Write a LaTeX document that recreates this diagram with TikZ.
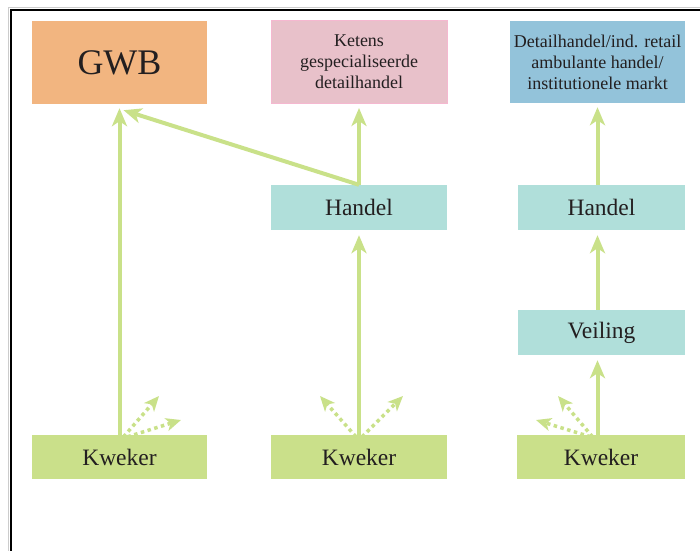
\documentclass[tikz,border=0pt]{standalone}
\usepackage{fontspec}
\setmainfont{Liberation Serif}
\usetikzlibrary{arrows.meta,calc}
\definecolor{cOrange}{HTML}{F2B580}
\definecolor{cPink}{HTML}{E8C1CA}
\definecolor{cPinkB}{HTML}{F5B8D0}
\definecolor{cBlue}{HTML}{93C3DA}
\definecolor{cTeal}{HTML}{B0DFDA}
\definecolor{cGreen}{HTML}{CAE08A}
\definecolor{cArrow}{HTML}{C9E189}
\definecolor{cText}{HTML}{231F20}
\tikzset{
  box/.style={rectangle, inner sep=0pt, text=cText, align=center},
  bigfont/.style={font=\fontsize{36}{40}\selectfont},
  midfont/.style={font=\fontsize{23.5}{27}\selectfont},
  smallfont/.style={font=\fontsize{18}{21}\selectfont},
  flow/.style={draw=cArrow, line width=4pt, -{Stealth[length=18pt,width=15pt,inset=5pt]}},
  alt/.style={draw=cArrow, line width=3.5pt, dash pattern=on 3.5pt off 3.5pt, -{Stealth[length=15pt,width=13pt,inset=4pt]}},
}
\begin{document}
\begin{tikzpicture}[x=1pt,y=-1pt]
\useasboundingbox (0,0) rectangle (700,551);
\fill[white] (0,0) rectangle (700,551);
% frame
\draw[gray!40, line width=1pt] (700,7.5) -- (8.5,7.5) -- (8.5,551);
\draw[black, line width=2pt] (700,10) -- (11,10) -- (11,551);
% top boxes
\node[box, bigfont, fill=cOrange, minimum width=175pt, minimum height=83pt] (gwb) at (119.5,62.5) {GWB};
\node[box, smallfont, fill=cPink, draw=cPinkB, line width=1pt, minimum width=176pt, minimum height=83pt] (ket) at (359,62) {Ketens\\gespecialiseerde\\detailhandel};
\node[box, smallfont, fill=cBlue, minimum width=175pt, minimum height=82pt] (det) at (597.5,62) {Detailhandel/ind. retail\\ambulante handel/\\institutionele markt};
% middle boxes
\node[box, midfont, fill=cTeal, minimum width=176pt, minimum height=45pt] (h1) at (359,207.5) {Handel};
\node[box, midfont, fill=cTeal, minimum width=167pt, minimum height=45pt] (h2) at (601.5,207.5) {Handel};
\node[box, midfont, fill=cTeal, minimum width=167pt, minimum height=45pt] (veil) at (601.5,332.5) {Veiling};
% bottom boxes
\node[box, midfont, fill=cGreen, minimum width=175pt, minimum height=44pt] (k1) at (119.5,457) {Kweker};
\node[box, midfont, fill=cGreen, minimum width=176pt, minimum height=44pt] (k2) at (359,457) {Kweker};
\node[box, midfont, fill=cGreen, minimum width=168pt, minimum height=44pt] (k3) at (601,457) {Kweker};
% solid flows
\draw[flow] (k1.north) -- ([yshift=-4pt]gwb.south);
\draw[flow] (h1.north) -- ([xshift=4pt,yshift=-6pt]gwb.south);
\draw[flow] (h1.north) -- ([yshift=-4pt]ket.south);
\draw[flow] (k2.north) -- ([yshift=-5pt]h1.south);
\draw[flow] (det.south |- h2.north) -- ([yshift=-4pt]det.south);
\draw[flow] (det.south |- veil.north) -- ([yshift=-5pt]det.south |- h2.south);
\draw[flow] (det.south |- k3.north) -- ([yshift=-5pt]det.south |- veil.south);
% dotted alternative flows
\coordinate (a1) at (159,396);
\coordinate (a2) at (181,420);
\coordinate (b1) at (320,396);
\coordinate (b2) at (403,396);
\coordinate (c1) at (558,396);
\coordinate (c2) at (536,420);
\draw[alt] ([xshift=4pt,yshift=-2pt]k1.north) -- (a1);
\draw[alt] ([xshift=8pt,yshift=-2pt]k1.north) -- (a2);
\draw[alt] ([xshift=-3pt,yshift=-2pt]k2.north) -- (b1);
\draw[alt] ([xshift=3pt,yshift=-2pt]k2.north) -- (b2);
\draw[alt] ([xshift=-5pt,yshift=-2pt]det.south |- k3.north) -- (c1);
\draw[alt] ([xshift=-7pt,yshift=-2pt]det.south |- k3.north) -- (c2);
\end{tikzpicture}
\end{document}
